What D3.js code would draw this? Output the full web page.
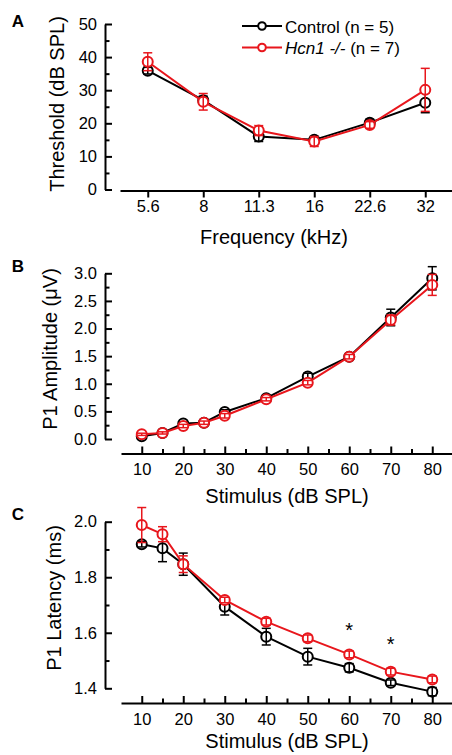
<!DOCTYPE html>
<html>
<head>
<meta charset="utf-8">
<script src="https://cdn.jsdelivr.net/npm/d3@7"></script>
<style>
  body { margin: 0; background: #fff; }
  svg { font-family: "Liberation Sans", Arial, sans-serif; }
  .axis path, .axis line { stroke: #000; stroke-width: 2; }
  .axis text { font-size: 16.5px; fill: #000; font-family: "Liberation Sans", Arial, sans-serif; }
</style>
</head>
<body>
<div id="content"></div>
<script>
// Panel A: ABR thresholds per frequency
var freqLabels = ['5.6', '8', '11.3', '16', '22.6', '32'];
var thrControl = [35.9, 27.0, 16.0, 15.0, 20.2, 26.2];
var thrControlErr = [1.0, 1.2, 1.5, 1.0, 1.0, 3.0];
var thrHcn1 = [38.6, 26.5, 17.8, 14.5, 19.5, 30.1];
var thrHcn1Err = [2.7, 2.5, 1.5, 1.5, 1.0, 6.5];

// Panel B: P1 amplitude vs stimulus level
var ampStim = [10, 15, 20, 25, 30, 40, 50, 60, 70, 80];
var ampControl = [0.05, 0.11, 0.28, 0.295, 0.49, 0.74, 1.13, 1.49, 2.20, 2.91];
var ampControlErr = [0.02, 0.02, 0.03, 0.03, 0.04, 0.04, 0.06, 0.04, 0.15, 0.21];
var ampHcn1 = [0.085, 0.11, 0.235, 0.295, 0.42, 0.72, 1.02, 1.49, 2.155, 2.79];
var ampHcn1Err = [0.02, 0.02, 0.03, 0.03, 0.04, 0.03, 0.04, 0.04, 0.09, 0.19];

// Panel C: P1 latency vs stimulus level
var latStim = [10, 15, 20, 30, 40, 50, 60, 70, 80];
var latControl = [1.919, 1.904, 1.847, 1.694, 1.586, 1.514, 1.474, 1.42, 1.388];
var latControlErr = [0.01, 0.048, 0.04, 0.03, 0.03, 0.03, 0.015, 0.01, 0.015];
var latHcn1 = [1.988, 1.955, 1.847, 1.718, 1.64, 1.58, 1.522, 1.46, 1.432];
var latHcn1Err = [0.063, 0.027, 0.03, 0.01, 0.012, 0.012, 0.012, 0.012, 0.012];

// significance markers in panel C
var sigStim = [60, 70];
var sigLatency = [1.616, 1.566];

var RED = '#e8161c';

var svg = d3.select('#content').append('svg')
    .attr('width', 452)
    .attr('height', 755);

var axisX = 105;

function drawSeries(g, xs, ys, errs, x, y, color) {
    var pts = xs.map(function(d, i) { return {x: d, y: ys[i], e: errs[i]}; });
    g.append('path')
        .datum(pts)
        .attr('fill', 'none')
        .attr('stroke', color)
        .attr('stroke-width', 2)
        .attr('d', d3.line().x(function(d) { return x(d.x); }).y(function(d) { return y(d.y); }));
    g.selectAll(null).data(pts).enter().append('circle')
        .attr('cx', function(d) { return x(d.x); })
        .attr('cy', function(d) { return y(d.y); })
        .attr('r', 5)
        .attr('fill', '#fff')
        .attr('stroke', color)
        .attr('stroke-width', 2);
    var eb = g.selectAll(null).data(pts).enter().append('g')
        .attr('stroke', color)
        .attr('stroke-width', 1.5);
    eb.append('line')
        .attr('x1', function(d) { return x(d.x); })
        .attr('x2', function(d) { return x(d.x); })
        .attr('y1', function(d) { return y(d.y - d.e); })
        .attr('y2', function(d) { return y(d.y + d.e); });
    [-1, 1].forEach(function(s) {
        eb.append('line')
            .attr('x1', function(d) { return x(d.x) - 4.5; })
            .attr('x2', function(d) { return x(d.x) + 4.5; })
            .attr('y1', function(d) { return y(d.y + s * d.e); })
            .attr('y2', function(d) { return y(d.y + s * d.e); });
    });
}

function drawYAxis(y, major, minor, fmt) {
    svg.append('g').attr('class', 'axis')
        .attr('transform', 'translate(' + axisX + ',0)')
        .call(d3.axisLeft(y).tickValues(major).tickFormat(fmt)
            .tickSizeInner(-7).tickSizeOuter(0).tickPadding(8));
    svg.append('g').attr('class', 'axis')
        .attr('transform', 'translate(' + axisX + ',0)')
        .call(d3.axisLeft(y).tickValues(minor).tickFormat('')
            .tickSizeInner(-4.5).tickSizeOuter(0))
        .select('.domain').remove();
}

function yTitle(text, cx, cy) {
    return svg.append('text')
        .attr('transform', 'translate(' + cx + ',' + cy + ') rotate(-90)')
        .attr('text-anchor', 'middle')
        .attr('font-size', 20)
        .text(text);
}

function xTitle(text, cx, by) {
    svg.append('text')
        .attr('x', cx).attr('y', by)
        .attr('text-anchor', 'middle')
        .attr('font-size', 20)
        .text(text);
}

function panelLabel(text, py) {
    svg.append('text')
        .attr('x', 18).attr('y', py)
        .attr('text-anchor', 'middle')
        .attr('font-size', 17)
        .attr('font-weight', 'bold')
        .text(text);
}

// ---------- Panel A ----------
var xA = d3.scalePoint().domain(freqLabels).range([120, 453]).padding(0.5);
var yA = d3.scaleLinear().domain([0, 50]).range([189.5, 24]);

drawYAxis(yA, d3.range(0, 51, 10), d3.range(5, 50, 10), d3.format('d'));
svg.append('g').attr('class', 'axis')
    .attr('transform', 'translate(0,190.5)')
    .call(d3.axisBottom(xA).tickSizeInner(7).tickSizeOuter(0).tickPadding(3));

var gA = svg.append('g');
drawSeries(gA, freqLabels, thrControl, thrControlErr, xA, yA, '#000');
drawSeries(gA, freqLabels, thrHcn1, thrHcn1Err, xA, yA, RED);

yTitle('Threshold (dB SPL)', 64, 104);
xTitle('Frequency (kHz)', 274, 244);
panelLabel('A', 27);

// legend
var legendRows = [
    {color: '#000', y: 26},
    {color: RED, y: 47.5}
];
legendRows.forEach(function(r) {
    svg.append('line')
        .attr('x1', 242).attr('x2', 282).attr('y1', r.y).attr('y2', r.y)
        .attr('stroke', r.color).attr('stroke-width', 2);
    svg.append('circle')
        .attr('cx', 262).attr('cy', r.y).attr('r', 3.8)
        .attr('fill', '#fff').attr('stroke', r.color).attr('stroke-width', 2);
});
svg.append('text').attr('x', 285).attr('y', 32.5).attr('font-size', 17)
    .text('Control (n = 5)');
var t2 = svg.append('text').attr('x', 285).attr('y', 54).attr('font-size', 17);
t2.append('tspan').attr('font-style', 'italic').text('Hcn1 -/-');
t2.append('tspan').text(' (n = 7)');

// ---------- Panel B ----------
var xB = d3.scaleLinear().domain([5, 85]).range([121, 453]);
var yB = d3.scaleLinear().domain([0, 3]).range([439, 273.3]);

drawYAxis(yB, d3.range(0, 3.01, 0.5), d3.range(0.25, 3, 0.5), d3.format('.1f'));

function drawStimAxis(yPos) {
    svg.append('g').attr('class', 'axis')
        .attr('transform', 'translate(0,' + yPos + ')')
        .call(d3.axisBottom(xB).tickValues(d3.range(10, 81, 10)).tickFormat(d3.format('d'))
            .tickSizeInner(-7).tickSizeOuter(0).tickPadding(10));
    svg.append('g').attr('class', 'axis')
        .attr('transform', 'translate(0,' + yPos + ')')
        .call(d3.axisBottom(xB).tickValues(d3.range(15, 80, 10)).tickFormat('')
            .tickSizeInner(-4.5).tickSizeOuter(0))
        .select('.domain').remove();
}
drawStimAxis(453.5);

var gB = svg.append('g');
drawSeries(gB, ampStim, ampControl, ampControlErr, xB, yB, '#000');
drawSeries(gB, ampStim, ampHcn1, ampHcn1Err, xB, yB, RED);

var tb = yTitle('', 56.5, 349);
tb.append('tspan').text('P1 Amplitude (');
tb.append('tspan').text('\u03bc');
tb.append('tspan').text('V)');
xTitle('Stimulus (dB SPL)', 287, 503);
panelLabel('B', 272);

// ---------- Panel C ----------
var yC = d3.scaleLinear().domain([1.4, 2.0]).range([688.3, 521.7]);

drawYAxis(yC, [1.4, 1.6, 1.8, 2.0], [1.5, 1.7, 1.9], d3.format('.1f'));
drawStimAxis(703);

var gC = svg.append('g');
drawSeries(gC, latStim, latControl, latControlErr, xB, yC, '#000');
drawSeries(gC, latStim, latHcn1, latHcn1Err, xB, yC, RED);

svg.selectAll(null).data(sigStim).enter().append('text')
    .attr('x', function(d) { return xB(d); })
    .attr('y', function(d, i) { return yC(sigLatency[i]) + 9; })
    .attr('text-anchor', 'middle')
    .attr('font-size', 20)
    .text('*');

yTitle('P1 Latency (ms)', 61, 598);
xTitle('Stimulus (dB SPL)', 287, 748);
panelLabel('C', 520);
</script>
</body>
</html>
